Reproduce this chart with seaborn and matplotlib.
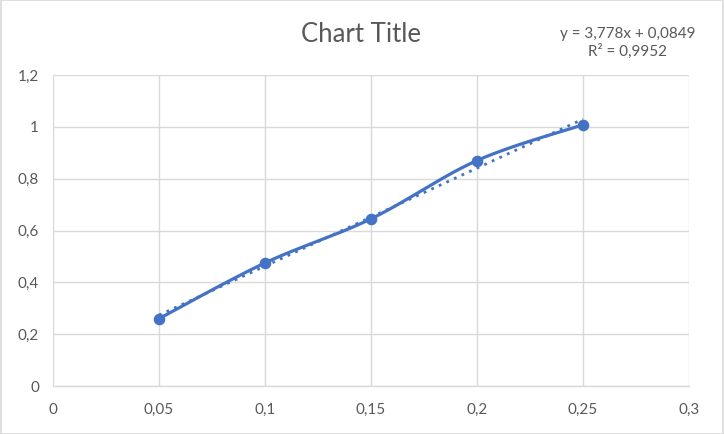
import numpy as np
import pandas as pd
import matplotlib
matplotlib.use("Agg")
import matplotlib.pyplot as plt
import seaborn as sns
from matplotlib.ticker import FuncFormatter, MultipleLocator

x_vals = [0.05, 0.10, 0.15, 0.20, 0.25]
y_vals = [0.26, 0.475, 0.645, 0.87, 1.008]
title = "Chart Title"
eq_text = "y = 3,778x + 0,0849\nR² = 0,9952"

BLUE = "#4472C4"
GRID = "#D9D9D9"
TXT = "#595959"

sns.set_theme(style="white")
plt.rcParams["font.family"] = ["Lato", "DejaVu Sans"]

df = pd.DataFrame({"x": x_vals, "y": y_vals})

# Excel-style smoothed line (Catmull-Rom / Bezier)
def smooth(xs, ys, n=40):
    xs = np.asarray(xs, float); ys = np.asarray(ys, float)
    P = np.column_stack([xs, ys])
    out = []
    for i in range(len(P) - 1):
        p0 = P[i - 1] if i > 0 else P[i]
        p1 = P[i]; p2 = P[i + 1]
        p3 = P[i + 2] if i + 2 < len(P) else P[i + 1]
        c1 = p1 + (p2 - p0) / 6.0
        c2 = p2 - (p3 - p1) / 6.0
        t = np.linspace(0, 1, n)[:, None]
        seg = (1 - t) ** 3 * p1 + 3 * (1 - t) ** 2 * t * c1 + 3 * (1 - t) * t ** 2 * c2 + t ** 3 * p2
        out.append(seg if i == 0 else seg[1:])
    s = np.vstack(out)
    return s[:, 0], s[:, 1]

sx, sy = smooth(x_vals, y_vals)
sdf = pd.DataFrame({"x": sx, "y": sy})

fig = plt.figure(figsize=(7.24, 4.34), dpi=100)
ax = fig.add_axes([53 / 724, 48 / 434, (689 - 53) / 724, (386 - 75) / 434])

ax.set_xlim(0, 0.3)
ax.set_ylim(0, 1.2)
ax.xaxis.set_major_locator(MultipleLocator(0.05))
ax.yaxis.set_major_locator(MultipleLocator(0.2))
ax.grid(True, color=GRID, lw=1.0)
ax.set_axisbelow(True)

fmt = FuncFormatter(lambda v, p: ("%g" % round(v, 4)).replace(".", ","))
ax.xaxis.set_major_formatter(fmt)
ax.yaxis.set_major_formatter(fmt)

for s in ["top", "right", "left"]:
    ax.spines[s].set_visible(False)
ax.spines["bottom"].set_color(GRID)
ax.spines["bottom"].set_linewidth(1.0)
ax.tick_params(axis="both", length=0, labelsize=11, colors=TXT)
ax.tick_params(axis="x", pad=12)
ax.tick_params(axis="y", pad=10)

sns.regplot(data=df, x="x", y="y", ax=ax, scatter=False, ci=None, truncate=True,
            line_kws=dict(color=BLUE, lw=2.0, linestyle=(0, (1, 2))))
sns.lineplot(data=sdf, x="x", y="y", ax=ax, sort=False, estimator=None,
             color=BLUE, lw=2.3)
sns.scatterplot(data=df, x="x", y="y", ax=ax, color=BLUE, s=70, edgecolor=BLUE,
                linewidth=0, zorder=5)
ax.set_xlabel("")
ax.set_ylabel("")

fig.text(361 / 724, 1 - 34 / 434, title, ha="center", va="center", fontsize=18.5, color=TXT)
fig.text(628 / 724, 1 - 43 / 434, eq_text, ha="center", va="center", fontsize=11,
         color=TXT, linespacing=1.3)

fig.patches.append(plt.Rectangle((0.001, 0.001), 0.998, 0.998, transform=fig.transFigure,
                                 fill=False, edgecolor="#D9D9D9", lw=1.2))

fig.savefig("out.png", dpi=100, facecolor="white")
